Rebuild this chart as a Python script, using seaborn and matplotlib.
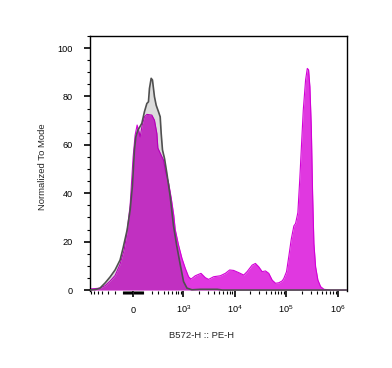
import matplotlib
matplotlib.use("Agg")
import matplotlib.pyplot as plt
import matplotlib.ticker as mticker
import seaborn as sns
import numpy as np

# Sample histogram (PE stained)
sample_x = [-723, -571, -448, -347, -263, -193, -133, -89, -59, -29, -14.5, 0,
            19.3, 38.8, 53.7, 68.7, 89, 114, 141, 202, 238, 274, 290, 329, 391,
            441, 463, 506, 571, 643, 690, 804, 941, 1094, 1271, 1417, 1720, 2223,
            2697, 3126, 3911, 5280, 6601, 8003, 9571, 11966, 14969, 17420, 21794,
            25250, 29270, 34085, 39506, 45800, 53310, 61810, 71640, 83400, 89590,
            101080, 112040, 124740, 140130, 151200, 167500, 183170, 197640,
            213300, 236400, 255100, 270300, 286500, 305000, 323240, 342600,
            369700, 409750, 462500, 536000, 722800, 1478500]
sample_y = [0.5, 0.6, 0.8, 1.8, 3.7, 6.0, 10.7, 16.5, 24.0, 35.0, 45.0, 55.0,
            64.0, 68.2, 66.0, 63.3, 68.0, 71.6, 72.6, 72.3, 70.2, 64.7, 58.7, 56.6,
            53.7, 48.3, 47.0, 44.0, 38.0, 31.0, 25.0, 18.6, 13.1, 9.0, 5.5, 4.5,
            5.9, 6.9, 5.1, 4.4, 5.5, 5.9, 6.9, 8.3, 8.1, 7.2, 6.2, 7.6, 10.3, 11.0,
            9.6, 7.6, 7.9, 6.9, 4.1, 2.8, 3.0, 3.8, 4.8, 7.6, 14.0, 21.0, 26.5,
            27.5, 32.0, 46.5, 60.5, 74.4, 86.8, 91.6, 91.0, 84.0, 67.5, 40.0, 19.3,
            9.6, 4.1, 1.4, 0.3, 0.0, 0.0]

# Unstained control histogram
control_x = [-723, -571, -518, -448, -347, -263, -193, -133, -99.8, -58.6, -29,
             -6.8, 12.6, 26.1, 45.7, 86.2, 113.8, 140.7, 159.6, 171.7, 193.2,
             210.4, 238, 263.3, 299.9, 329, 346.8, 371, 411, 463, 544, 637, 740,
             870, 1012, 1182, 1483, 2154, 4616, 5774, 1478500]
control_y = [0.0, 0.2, 0.4, 0.8, 2.9, 5.4, 8.3, 12.4, 17.4, 24.8, 33.0, 43.0,
             57.9, 63.3, 66.0, 68.9, 73.7, 77.1, 77.8, 83.3, 87.5, 86.8, 79.9,
             76.4, 73.7, 71.6, 64.7, 57.9, 54.4, 48.2, 38.6, 26.5, 18.3, 10.5, 3.5,
             0.8, 0.1, 0.3, 0.3, 0.0, 0.0]

x_major = [0, 1e3, 1e4, 1e5, 1e6]
x_major_labels = ["$0$", "$10^{3}$", "$10^{4}$", "$10^{5}$", "$10^{6}$"]
y_major = [0, 20, 40, 60, 80, 100]

W = 216.0  # width of the near-linear region around zero


def logicle_fwd(x):
    return np.arcsinh(np.asarray(x, dtype=float) / W) / np.log(10)


def logicle_inv(t):
    return W * np.sinh(np.asarray(t, dtype=float) * np.log(10))


sns.set_style("ticks")
plt.rcParams["font.family"] = ["Liberation Sans", "DejaVu Sans"]
plt.rcParams["mathtext.fontset"] = "custom"
plt.rcParams["mathtext.rm"] = "Liberation Sans"
plt.rcParams["mathtext.default"] = "regular"

fig = plt.figure(figsize=(3.92, 3.68), dpi=100)
ax = fig.add_axes([0.2296, 0.2079, 0.6548, 0.6943])
ax.set_xscale("function", functions=(logicle_fwd, logicle_inv))

# sample: solid magenta
ax.fill_between(sample_x, sample_y, 0, color="#e038e0", lw=0, zorder=1)
sns.lineplot(x=sample_x, y=sample_y, ax=ax, color="#d200d6", lw=0.8,
             estimator=None, sort=False, zorder=2)
# control: dark veil over the top, so overlap turns purple
ax.fill_between(control_x, control_y, 0, color="black", alpha=0.137, lw=0, zorder=3)
sns.lineplot(x=control_x, y=control_y, ax=ax, color="#505050", lw=1.2,
             estimator=None, sort=False, zorder=4)

ax.set_xlim(-723, 1478500)
ax.set_ylim(-0.6, 105)

# x ticks
minors = [-v for v in range(100, 800, 100)] + [-v for v in range(10, 100, 10)]
minors += list(range(10, 100, 10)) + list(range(100, 1000, 100))
for dec in [1e3, 1e4, 1e5]:
    minors += [m * dec for m in range(2, 10)]
ax.xaxis.set_major_locator(mticker.FixedLocator(x_major))
ax.xaxis.set_minor_locator(mticker.FixedLocator(minors))
ax.set_xticklabels(x_major_labels)
ax.yaxis.set_major_locator(mticker.FixedLocator(y_major))
ax.yaxis.set_minor_locator(mticker.MultipleLocator(5))

ax.tick_params(which="major", length=4.3, width=1.2, colors="black",
               labelsize=6.6, direction="out")
ax.tick_params(which="minor", length=2.2, width=0.8, colors="black", direction="out")
ax.tick_params(axis="y", which="major", pad=8)
ax.tick_params(axis="x", which="major", pad=11)
for lab in ax.get_xticklabels():
    lab.set_va("baseline")

for side in ["left", "top", "right"]:
    ax.spines[side].set_linewidth(1.0)
    ax.spines[side].set_color("black")
ax.spines["bottom"].set_visible(False)

ax.set_xlabel("B572-H :: PE-H", fontsize=6.8)
ax.set_ylabel("Normalized To Mode", fontsize=6.8)
ax.xaxis.set_label_coords(0.436, -0.174)
ax.xaxis.label.set_va("center")
ax.yaxis.set_label_coords(-0.187, 0.489)
ax.yaxis.label.set_va("center")

fig.savefig("out.png", dpi=100)
